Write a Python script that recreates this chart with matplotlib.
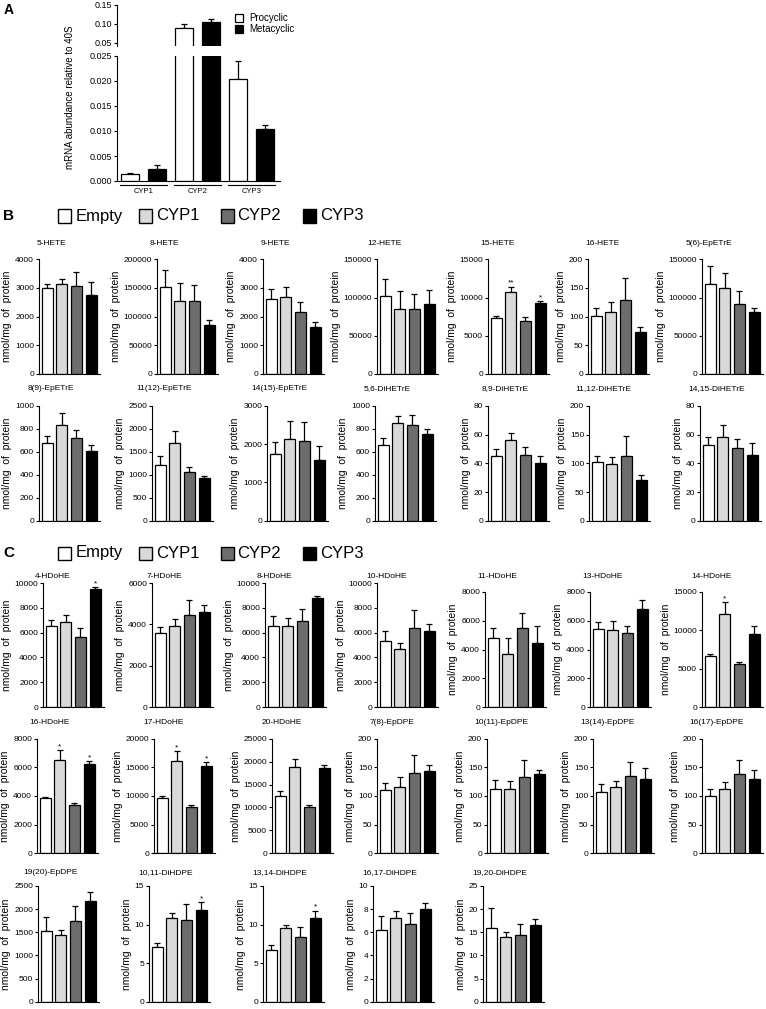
import numpy as np
import matplotlib
matplotlib.use("Agg")
import matplotlib.pyplot as plt
from matplotlib.patches import Rectangle

plt.rcParams['font.family'] = ['Liberation Sans', 'DejaVu Sans']

# ---- panel A: mRNA abundance
genes = ["CYP1", "CYP2", "CYP3"]
procyclic = [0.0015, 0.0885, 0.0203]
procyclic_err = [0.0002, 0.0115, 0.0037]
metacyclic = [0.0025, 0.104, 0.0103]
metacyclic_err = [0.0007, 0.008, 0.0009]

groups = ["Empty", "CYP1", "CYP2", "CYP3"]

# ---- panel B: arachidonic acid metabolites
b_names = ["5-HETE", "8-HETE", "9-HETE", "12-HETE", "15-HETE", "16-HETE", "5(6)-EpETrE",
           "8(9)-EpETrE", "11(12)-EpETrE", "14(15)-EpETrE", "5,6-DiHETrE", "8,9-DiHETrE",
           "11,12-DiHETrE", "14,15-DiHETrE"]
b_ymax = [4000, 200000, 4000, 150000, 15000, 200, 150000,
          1000, 2500, 3000, 1000, 80, 200, 80]
b_step = [1000, 50000, 1000, 50000, 5000, 50, 50000,
          200, 500, 1000, 200, 20, 50, 20]
b_means = [[3000, 3130, 3070, 2750], [152000, 127000, 128000, 86000],
           [2600, 2700, 2170, 1640], [102000, 85000, 85000, 91000],
           [7300, 10700, 6900, 9300], [101, 108, 129, 74],
           [118000, 113000, 92000, 81000],
           [680, 835, 720, 610], [1220, 1690, 1070, 930],
           [1750, 2130, 2090, 1600], [660, 855, 830, 760],
           [45, 56.5, 46, 40.5], [103, 98, 112, 71], [52.5, 58.5, 50.5, 45.5]]
b_errs = [[150, 200, 470, 450], [30000, 32000, 28000, 8000],
          [370, 340, 330, 160], [22000, 23000, 20000, 19000],
          [250, 700, 600, 250], [14, 17, 38, 8],
          [23000, 19000, 17000, 5000],
          [55, 105, 75, 50], [200, 270, 90, 55],
          [300, 490, 500, 360], [60, 55, 95, 40],
          [5, 5, 5.5, 4.5], [10, 13, 35, 8], [6, 8.5, 6.5, 9]]
b_stars = {"15-HETE": ["", "**", "", "*"]}

# ---- panel C: docosahexaenoic acid metabolites
c_names = ["4-HDoHE", "7-HDoHE", "8-HDoHE", "10-HDoHE", "11-HDoHE", "13-HDoHE", "14-HDoHE",
           "16-HDoHE", "17-HDoHE", "20-HDoHE", "7(8)-EpDPE", "10(11)-EpDPE", "13(14)-EpDPE",
           "16(17)-EpDPE", "19(20)-EpDPE", "10,11-DiHDPE", "13,14-DiHDPE", "16,17-DiHDPE",
           "19,20-DiHDPE"]
c_ymax = [10000, 6000, 10000, 10000, 8000, 8000, 15000,
          8000, 20000, 25000, 200, 200, 200, 200,
          2500, 15, 15, 10, 25]
c_step = [2000, 2000, 2000, 2000, 2000, 2000, 5000,
          2000, 5000, 5000, 50, 50, 50, 50,
          500, 5, 5, 2, 5]
c_means = [[6500, 6850, 5650, 9550], [3600, 3900, 4450, 4600],
           [6500, 6550, 6900, 8800], [5300, 4700, 6400, 6100],
           [4830, 3720, 5520, 4450], [5400, 5330, 5130, 6850],
           [6600, 12100, 5570, 9570],
           [3850, 6500, 3350, 6200], [9700, 16100, 8100, 15300],
           [12600, 18800, 10000, 18500], [110, 115, 140, 144],
           [112, 112, 133, 138], [107, 115, 135, 129], [100, 113, 138, 130],
           [1520, 1440, 1750, 2180], [7.1, 10.8, 10.6, 11.9],
           [6.7, 9.5, 8.4, 10.8], [6.2, 7.2, 6.7, 8.0], [16.0, 14.0, 14.5, 16.6]]
c_errs = [[500, 600, 700, 100], [250, 350, 750, 350],
          [800, 600, 1000, 150], [800, 500, 1400, 600],
          [640, 1070, 990, 1180], [530, 670, 530, 580],
          [350, 1600, 300, 1000],
          [100, 700, 150, 250], [300, 1700, 400, 600],
          [900, 1800, 500, 800], [13, 18, 32, 10],
          [16, 15, 30, 8], [14, 12, 25, 19], [13, 12, 25, 16],
          [300, 120, 310, 180], [0.5, 0.7, 2.1, 1.0],
          [0.7, 0.4, 1.3, 1.0], [1.2, 0.6, 1.0, 0.5], [4.3, 1.0, 2.3, 1.2]]
c_stars = {"4-HDoHE": ["", "", "", "*"], "14-HDoHE": ["", "*", "", ""],
           "16-HDoHE": ["", "*", "", "*"], "17-HDoHE": ["", "*", "", "*"],
           "10,11-DiHDPE": ["", "", "", "*"], "13,14-DiHDPE": ["", "", "", "*"]}

colors = ["white", "#d9d9d9", "#6d6d6d", "black"]

W, H = 766, 1009
fig = plt.figure(figsize=(W / 100, H / 100), dpi=100)


def add_ax(left, top, width, bottom):
    # axes placed in pixel coordinates measured from the top left corner
    return fig.add_axes([left / W, 1 - bottom / H, width / W, (bottom - top) / H])


def style(ax):
    ax.spines[["top", "right"]].set_visible(False)
    for s in ("left", "bottom"):
        ax.spines[s].set_linewidth(0.8)
    ax.tick_params(axis="y", length=2.5, width=0.8, pad=1, labelsize=6)
    ax.tick_params(axis="x", bottom=False, labelbottom=False)
    ax.set_facecolor("none")


def small_panel(ax, means, errs, ymax, step, stars):
    x = np.arange(4)
    ax.bar(x, means, 0.74, color=colors, edgecolor="black", linewidth=0.9, zorder=2)
    ax.errorbar(x, means, yerr=[np.zeros(4), errs], fmt="none", ecolor="black",
                elinewidth=0.9, capsize=2.5, capthick=0.9, zorder=1)
    for xi, m, e, s in zip(x, means, errs, stars):
        if s:
            ax.annotate(s, (xi, m + e), xytext=(0, 0), textcoords="offset points",
                        ha="center", va="bottom", fontsize=6)
    ax.set_xlim(-0.55, 3.6)
    ax.set_ylim(0, ymax)
    ticks = np.arange(0, ymax + step / 2, step)
    ax.set_yticks(ticks)
    ax.set_yticklabels([f"{t:g}" for t in ticks])
    ax.set_ylabel("nmol/mg  of  protein", fontsize=7.5, labelpad=2)
    style(ax)


# ---------------- panel A
axA = add_ax(117, 56, 163, 181)
axA_top = add_ax(117, 4.7, 163, 46)
xa = np.arange(6)
for ax in (axA, axA_top):
    ax.bar(xa[0::2], procyclic, 0.69, color="white", edgecolor="black", linewidth=0.9, zorder=2)
    ax.bar(xa[1::2], metacyclic, 0.69, color="black", edgecolor="black", linewidth=0.9, zorder=2)
    ax.errorbar(xa[0::2], procyclic, yerr=[np.zeros(3), procyclic_err], fmt="none",
                ecolor="black", elinewidth=0.9, capsize=2.5, capthick=0.9, zorder=1)
    ax.errorbar(xa[1::2], metacyclic, yerr=[np.zeros(3), metacyclic_err], fmt="none",
                ecolor="black", elinewidth=0.9, capsize=2.5, capthick=0.9, zorder=1)
    ax.set_xlim(-0.48, 5.56)
    style(ax)
    ax.tick_params(axis="y", labelsize=6.5)

axA.set_ylim(0, 0.025)
ta = np.arange(0, 0.0251, 0.005)
axA.set_yticks(ta)
axA.set_yticklabels([f"{t:.3f}" for t in ta])
axA_top.set_ylim(0.042, 0.15)
axA_top.set_yticks([0.05, 0.10, 0.15])
axA_top.set_yticklabels(["0.05", "0.10", "0.15"])
axA_top.spines["bottom"].set_visible(False)

# gene group labels with underline
for i, g in enumerate(genes):
    x0, x1 = 2 * i - 0.36, 2 * i + 1 + 0.36
    axA.plot([x0, x1], [-0.0007, -0.0007], color="black", lw=0.8, clip_on=False)
    axA.text(2 * i + 0.5, -0.0021, g, ha="center", va="center", fontsize=5.5)

fig.text(70 / W, 1 - 97 / H, "mRNA abundance relative to 40S", rotation=90,
         ha="center", va="center", fontsize=7)

# legend A
for k, (lab, fc) in enumerate([("Procyclic", "white"), ("Metacyclic", "black")]):
    yc = 18.3 + 10.7 * k
    fig.add_artist(Rectangle((235 / W, 1 - (yc + 4) / H), 8 / W, 8 / H, facecolor=fc,
                             edgecolor="black", lw=0.9, transform=fig.transFigure))
    fig.text(249 / W, 1 - yc / H, lab, ha="left", va="center", fontsize=7)

# ---------------- big legends for B and C
for yc in (216, 553):
    for lab, fc, xs, xt in zip(groups, colors, [58, 139, 221, 303], [76, 156, 237, 320]):
        fig.add_artist(Rectangle((xs / W, 1 - (yc + 6.5) / H), 13 / W, 13 / H, facecolor=fc,
                                 edgecolor="black", lw=1.0, transform=fig.transFigure))
        fig.text(xt / W, 1 - yc / H, lab, ha="left", va="center", fontsize=12)

fig.text(9 / W, 1 - 10 / H, "A", fontsize=10, fontweight="bold", ha="center", va="center")
fig.text(9 / W, 1 - 216 / H, "B", fontsize=11, fontweight="bold", ha="center", va="center")
fig.text(9 / W, 1 - 553 / H, "C", fontsize=11, fontweight="bold", ha="center", va="center")

# ---------------- small panels layout (pixel positions)
panel_w = 61
b_layout = [([259.3] * 7, 374, [39, 157, 263, 377, 488, 588, 702], 243),
            ([406] * 7, 520.7, [39, 152, 267, 375, 488, 589, 700], 389)]
c_layout = [([583, 583, 583, 583, 592, 592, 592], 707, [43, 152, 265, 377, 485, 590, 702], 576),
            ([738.7] * 7, 853.3, [37, 154, 272, 377, 487, 593, 702], 722),
            ([886] * 5, 1001.7, [38, 149, 263, 373, 483], 873)]

titled = []
for names, ymaxs, steps, means, errs, stars, layout in [
        (b_names, b_ymax, b_step, b_means, b_errs, b_stars, b_layout),
        (c_names, c_ymax, c_step, c_means, c_errs, c_stars, c_layout)]:
    k = 0
    for tops, bottom, lefts, ty in layout:
        for top, left in zip(tops, lefts):
            ax = add_ax(left, top, panel_w, bottom)
            small_panel(ax, means[k], errs[k], ymaxs[k], steps[k],
                        stars.get(names[k], [""] * 4))
            titled.append((ax, names[k], ty))
            k += 1

# titles are centred over the whole panel (tick labels + axis label + axes)
fig.canvas.draw()
renderer = fig.canvas.get_renderer()
for ax, name, ty in titled:
    bb = ax.get_tightbbox(renderer)
    fig.text((bb.x0 + bb.x1) / 2 / W, 1 - ty / H, name, ha="center", va="center", fontsize=6)

fig.savefig("out.png", dpi=100)
